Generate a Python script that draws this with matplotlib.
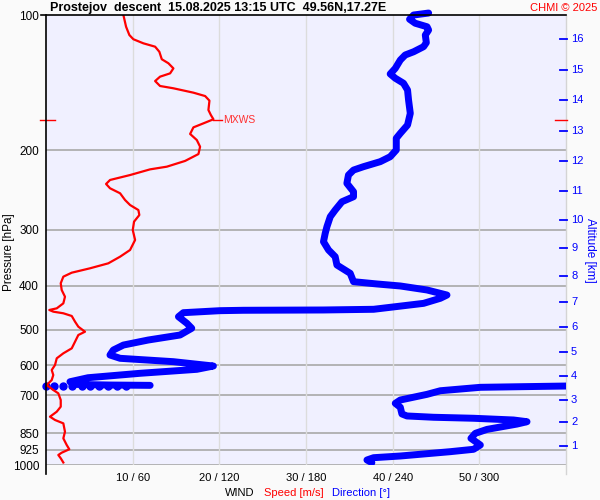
import matplotlib
matplotlib.use('Agg')
import matplotlib.pyplot as plt
import matplotlib.transforms as mtransforms

plt.rcParams['font.family'] = ['Liberation Sans', 'DejaVu Sans']

# ---------------- data ----------------
speed_p = [100, 106.2, 110.8, 113.2, 115.6, 117.6, 120.7, 125.4, 128.0, 131.4, 134.8, 137.1,
           140.2, 143.8, 145.5, 148.8, 151.4, 155.0, 162.6, 166.8, 170.5, 174.1, 177.7,
           183.8, 189.6, 196.2, 203.7, 211, 217.3, 220.3, 226.8, 232.6, 237.4, 242.7,
           249.0, 257.7, 264.4, 271.3, 278.3, 287.9, 300.4, 316.2, 332.8, 344.4, 356.3,
           365.5, 373.8, 381.5, 394.6, 408.4, 422.7, 437.3, 448.6, 452.4, 456.3, 460.1,
           466.5, 480.3, 492.8, 505.6, 514.2, 532.1, 550.5, 564.7, 579.3, 599.5, 615.1,
           631.0, 647.4, 664.2, 681.3, 693.0, 717.1, 742.0, 761.3, 781.0, 794.3, 808.1,
           843.5, 872.5, 902.8, 922.8, 939.0, 950.1, 966.2, 987.3]
speed_ms = [8.93, 9.24, 9.62, 10.08, 11.24, 12.59, 13.08, 13.36, 14.12, 14.70, 14.32, 13.16,
            12.59, 13.16, 14.70, 17.01, 18.36, 18.86, 18.74, 19.02, 19.32, 18.16, 17.01,
            16.63, 17.40, 17.78, 17.59, 16.05, 13.94, 12.01, 9.70, 7.39, 6.93, 7.39,
            8.55, 9.12, 9.70, 10.66, 10.77, 10.16, 10.01, 10.28, 9.70, 8.55, 7.19,
            5.08, 2.97, 2.00, 1.70, 1.81, 2.19, 2.00, 1.24, 0.38, 0.84, 2.00,
            2.97, 3.35, 3.73, 4.50, 3.73, 3.35, 2.97, 2.00, 1.24, 1.04, 0.66,
            0.84, 0.66, 0.08, 0.84, 1.42, 1.70, 1.70, 1.24, 0.46, 1.04, 2.00,
            2.19, 2.00, 2.39, 2.69, 1.81, 1.42, 1.70, 2.00]

dir_upper_p = [99, 100, 102.2, 104.3, 106.2, 108.0, 110.8, 115.2, 117.6, 120.7, 122.7, 125.9,
               131.4, 135.2, 138.2, 141.8, 146.8, 154.5, 165.4, 175.6, 183.2, 187.9, 199.5,
               206.5, 211.8, 217.3, 221.1, 226.8, 236.6, 247.0, 253.4, 260.0, 271.3, 280.7,
               295.4, 305.6, 319.0, 332.8, 344.4, 359.4, 375.0, 391.4, 396.0, 400.1, 408.4,
               419.1, 426.1, 437.3, 450.8, 452.4, 453.1, 454.0, 458.7, 468.2, 484.2, 496.8,
               514.2, 527.6, 541.3, 555.3, 569.6, 579.3, 589.4, 602.6, 612.9, 625.5, 639.8,
               653.1, 661.9, 664.2, 665.3]
dir_upper_deg = [264.9, 254.5, 251.7, 255.6, 263.8, 264.9, 262.6, 263.3, 261.4, 254.5, 248.7, 245.3,
                 241.8, 238.3, 241.8, 247.5, 250.3, 251.0, 252.2, 250.3, 245.3, 242.5, 242.5,
                 238.3, 231.4, 219.8, 212.9, 209.4, 208.3, 212.9, 212.9, 204.9, 200.2, 196.8,
                 194.5, 193.3, 192.1, 195.6, 200.2, 201.4, 210.6, 212.9, 229.1, 245.3, 263.8,
                 277.6, 273.0, 261.4, 226.8, 191.9, 136.7, 120.5, 95.1, 91.7, 97.5, 100.9,
                 92.8, 70.7, 53.6, 46.6, 44.3, 51.3, 88.2, 115.9, 104.4, 65.1, 29.1,
                 16.6, 18.9, 44.3, 72.1]

dir_gap_p = [666.5, 666.6, 666.7, 666.8, 666.9, 667.0, 667.1, 667.2, 667.3, 667.4]
dir_gap_deg = [55.4, 49.4, 43.2, 36.9, 30.5, 24.7, 18.2, 12.0, 5.5, 0.0]

dir_lower_p = [667.6, 669.9, 672.0, 683.9, 696.6, 717.1, 729.4, 744.3, 770.2, 778.1, 783.3,
               787.3, 794.3, 801.3, 811.0, 833.4, 850.5, 872.5, 902.8, 922.8, 934.1, 955.0,
               963.3, 974.7, 988.3]
dir_lower_deg = [360.0, 328.4, 300.7, 273.0, 263.8, 245.3, 241.8, 245.3, 246.4, 249.9, 268.3,
                 296.0, 323.7, 333.0, 326.1, 305.3, 297.2, 294.2, 300.7, 296.0, 279.9, 245.3,
                 226.8, 222.2, 225.6]

pressure_ticks = [100, 200, 300, 400, 500, 600, 700, 850, 925, 1000]
speed_ticks = [10, 20, 30, 40, 50]
dir_ticks = [60, 120, 180, 240, 300]
alt_km = list(range(1, 17))
alt_p = [906, 804, 716, 634, 562, 494, 434, 380, 330, 285.5, 246.5, 211, 181, 154.7, 132.5, 113.2]
mxws_p = 171
mxws_speed = 19.3

title = "Prostejov  descent  15.08.2025 13:15 UTC  49.56N,17.27E"

# ---------------- figure ----------------
W, H = 600, 500
fig = plt.figure(figsize=(6, 5), dpi=100, facecolor='#FAFAFA')
L, R, B, T = 46, 566, 35, 485  # pixel box (bottom-origin)
ax = fig.add_axes([L / W, B / H, (R - L) / W, (T - B) / H])
ax.set_facecolor('#F0F0FF')
ax.set_yscale('log')
ax.set_ylim(1000, 100)
ax.set_xlim(0, 60)
for s in ax.spines.values():
    s.set_visible(False)

ax.yaxis.set_minor_locator(matplotlib.ticker.NullLocator())
ax.set_yticks(pressure_ticks)
ax.set_yticklabels([str(p) for p in pressure_ticks])
ax.set_xticks(speed_ticks)
ax.set_xticklabels([f"{s} / {d}" for s, d in zip(speed_ticks, dir_ticks)])
ax.tick_params(axis='both', length=0, labelsize=8.5, colors='black')
ax.tick_params(axis='y', pad=5)
ax.tick_params(axis='x', pad=6, labelsize=8)

# grid
for p in pressure_ticks[1:]:
    ax.axhline(p, color='#A8A8A8', lw=1.2, zorder=1)
for s in speed_ticks:
    ax.axvline(s, color='#DCDCDC', lw=1.0, zorder=1)

ax_tr = ax.transAxes
ext = 9 / (T - B)
ax.plot([1, 1], [-ext, 1], color='#D4D4D4', lw=1.0, transform=ax_tr, clip_on=False, zorder=1)
ax.plot([0, 0], [-ext, 1], color='black', lw=1.2, transform=ax_tr, clip_on=False, zorder=5)
ax.plot([-5 / (R - L), 1], [1, 1], color='black', lw=1.2, transform=ax_tr, clip_on=False, zorder=5)

# data
ax.plot(speed_ms, speed_p, color='red', lw=1.6, zorder=4)
ax.plot([d / 6 for d in dir_upper_deg], dir_upper_p, color='blue', lw=5,
        solid_capstyle='round', solid_joinstyle='round', zorder=3, clip_on=False)
ax.plot([d / 6 for d in dir_gap_deg], dir_gap_p, 'o', color='blue', ms=5,
        zorder=3, clip_on=False)
ax.plot([d / 6 for d in dir_lower_deg], dir_lower_p, color='blue', lw=5,
        solid_capstyle='round', solid_joinstyle='round', zorder=3)

# MXWS
ax.plot([mxws_speed, mxws_speed + 1.0], [mxws_p, mxws_p], color='red', lw=1.0, zorder=4)
ax.text(mxws_speed + 1.15, mxws_p, 'MXWS', color='#FF3030', fontsize=7.5, va='center', ha='left')
bl = mtransforms.blended_transform_factory(ax.transAxes, ax.transData)
ax.plot([-6 / (R - L), 9 / (R - L)], [mxws_p, mxws_p], color='red', lw=1.0,
        transform=bl, clip_on=False)
ax.plot([1 - 11 / (R - L), 1 + 1 / (R - L)], [mxws_p, mxws_p], color='red', lw=1.0,
        transform=bl, clip_on=False)

# altitude axis
for km, p in zip(alt_km, alt_p):
    ax.plot([1 - 6 / (R - L), 1 + 1 / (R - L)], [p, p], color='blue', lw=1.3,
            transform=bl, clip_on=False)
    ax.text(1 + 5 / (R - L), p, str(km), color='blue', fontsize=8, va='center', ha='left',
            transform=bl)
fig.text(590 / W, 1 - 250 / H, 'Altitude [km]', color='blue', fontsize=8.5, rotation=270,
         ha='center', va='center')
fig.text(9 / W, 1 - 252 / H, 'Pressure [hPa]', color='black', fontsize=8.5, rotation=90,
         ha='center', va='center')

# titles
fig.text(50 / W, 1 - 8 / H, title, fontsize=9, fontweight='bold', ha='left', va='center')
fig.text(597 / W, 1 - 8 / H, 'CHMI © 2025', fontsize=8, color='red', ha='right', va='center')

# bottom legend-like label
fig.text(225 / W, 1 - 493 / H, 'WIND', fontsize=8, color='black', ha='left', va='center')
fig.text(264 / W, 1 - 493 / H, 'Speed [m/s]', fontsize=8, color='red', ha='left', va='center')
fig.text(332 / W, 1 - 493 / H, 'Direction [°]', fontsize=8, color='blue', ha='left', va='center')

fig.savefig('out.png', dpi=100, facecolor=fig.get_facecolor())
